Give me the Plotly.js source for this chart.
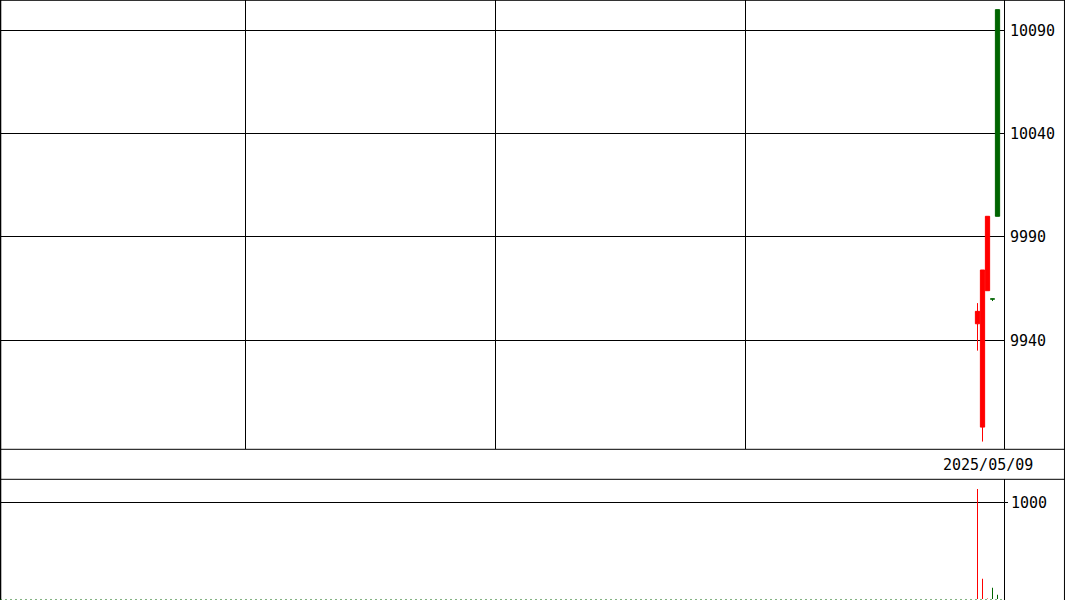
<!DOCTYPE html>
<html>
<head>
<meta charset="utf-8">
<script src="https://cdn.plot.ly/plotly-3.0.1.min.js"></script>
<style>html,body{margin:0;padding:0;background:#fff;}#chart{width:1065px;height:600px;}</style>
</head>
<body>
<div id="chart"></div>
<script>
// ---- data ----
const slots  = [195, 196, 197, 198, 199];          // bar slot index (5-px slots, 200 per chart)
const open   = [9948, 9898, 9964, 9960, 10100];
const high   = [9958, 9974, 10000, 9960, 10100];
const low    = [9935, 9891, 9964, 9959, 10000];
const close  = [9954, 9974, 10000, 9960, 10000];
const volume = [1142, 211, 4, 117, 45];
const priceTicks = [9940, 9990, 10040, 10090];
const volTicks = [1000];
const dividerSlots = [48.5, 98.5, 148.5];
const dateLabel = "2025/05/09";

const UP = "#ff0000", DOWN = "#006400";
const volColors = close.map((c, i) => c > open[i] ? UP : DOWN);

const W = 1065, H = 600;
const xRight = 1004 / W;
const mainBottom = 1 - 449.3 / H;
const volTop = 1 - 479.3 / H;
const font = {family: "DejaVu Sans Mono, monospace", size: 15, color: "#000"};

const traces = [
  {
    type: "candlestick", x: slots, open: open, high: high, low: low, close: close,
    xaxis: "x", yaxis: "y",
    increasing: {line: {color: UP, width: 1}, fillcolor: UP},
    decreasing: {line: {color: DOWN, width: 1}, fillcolor: DOWN},
    whiskerwidth: 0, hoverinfo: "skip", showlegend: false
  },
  {
    type: "bar", x: slots, y: volume, xaxis: "x2", yaxis: "y2",
    width: 0.2, marker: {color: volColors, line: {width: 0}},
    hoverinfo: "skip", showlegend: false
  }
];

const layout = {
  width: W, height: H,
  margin: {l: 0, r: 0, t: 0, b: 0},
  paper_bgcolor: "#fff", plot_bgcolor: "#fff",
  font: font,
  showlegend: false,
  boxgap: 0.15,
  boxgroupgap: 0,
  xaxis: {
    domain: [0, xRight], range: [-0.5, 200.3], anchor: "y",
    tickmode: "array", tickvals: dividerSlots, showticklabels: false, ticks: "",
    showgrid: true, gridcolor: "#000", gridwidth: 1, zeroline: false, showline: false,
    rangeslider: {visible: false}, fixedrange: true
  },
  yaxis: {
    domain: [mainBottom, 1], range: [9887.26, 10104.66], side: "right", anchor: "x",
    tickmode: "array", tickvals: priceTicks, ticktext: priceTicks.map(String),
    showgrid: true, gridcolor: "#000", gridwidth: 1, zeroline: false,
    showline: true, linecolor: "#000", linewidth: 1, ticks: "", ticklabelstandoff: 2,
    tickfont: font, fixedrange: true
  },
  xaxis2: {
    domain: [0, xRight], range: [-0.5, 200.3], anchor: "y2", matches: "x",
    showticklabels: false, ticks: "", showgrid: false, zeroline: false, showline: false
  },
  yaxis2: {
    domain: [0, volTop], range: [-10.4, 1243], side: "right", anchor: "x2",
    tickmode: "array", tickvals: volTicks, ticktext: volTicks.map(String),
    showgrid: true, gridcolor: "#000", gridwidth: 1, zeroline: false,
    showline: true, linecolor: "#000", linewidth: 1, ticks: "outside", ticklen: 3, tickcolor: "#000",
    ticklabelstandoff: 0, tickfont: font, fixedrange: true
  },
  shapes: [
    {type: "line", xref: "paper", yref: "paper", x0: 0, x1: 1, y0: 0.9995, y1: 0.9995,
     line: {color: "#000", width: 1}},
    {type: "line", xref: "paper", yref: "paper", x0: 0.0005, x1: 0.0005, y0: 0, y1: 1,
     line: {color: "#000", width: 1.5}},
    {type: "line", xref: "paper", yref: "paper", x0: 0.9995, x1: 0.9995, y0: 0, y1: 1,
     line: {color: "#000", width: 1}},
    {type: "line", xref: "paper", yref: "paper", x0: 0, x1: 1, y0: mainBottom, y1: mainBottom,
     line: {color: "#000", width: 1}},
    {type: "line", xref: "paper", yref: "paper", x0: 0, x1: 1, y0: volTop, y1: volTop,
     line: {color: "#000", width: 1}},
    {type: "line", xref: "x2", yref: "y2", x0: -0.4, x1: 200.2, y0: -5, y1: -5,
     line: {color: DOWN, width: 1, dash: "1px,4px"}}
  ],
  annotations: [
    {xref: "paper", yref: "paper", x: 1035 / W, y: 1 - 464.5 / H, xanchor: "right", yanchor: "middle",
     text: dateLabel, showarrow: false, font: font}
  ]
};

Plotly.newPlot("chart", traces, layout, {staticPlot: true, displayModeBar: false});
</script>
</body>
</html>
